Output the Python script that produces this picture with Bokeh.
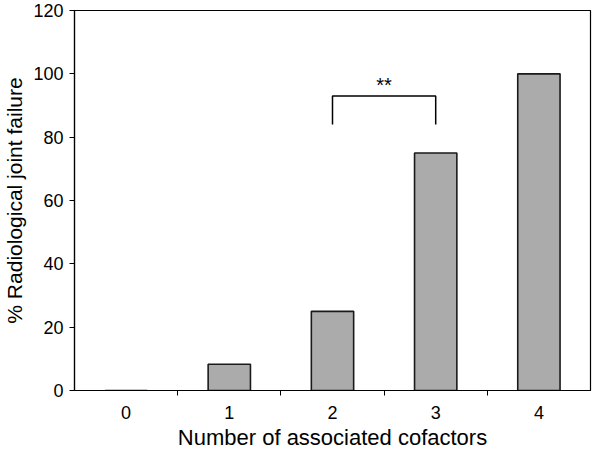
from bokeh.plotting import figure
from bokeh.models import FixedTicker, Range1d, ColumnDataSource
from bokeh.embed import file_html
from bokeh.resources import INLINE

categories = ["0", "1", "2", "3", "4"]
failure_pct = [0, 8.3, 25, 75, 100]
y_ticks = [0, 20, 40, 60, 80, 100, 120]
sig_pair = [2, 3]
sig_label = "**"
bracket_top = 93
bracket_bottom = 84
sig_text_y = 96.5

centers = [i + 0.5 for i in range(len(categories))]
boundaries = [i for i in range(1, len(categories))]

p = figure(width=592, height=452, output_backend="svg", toolbar_location=None,
           x_range=Range1d(0, len(categories)), y_range=Range1d(0, 120),
           min_border_left=69, min_border_right=2, min_border_top=10, min_border_bottom=60)

src = ColumnDataSource(dict(x=centers, top=failure_pct))
p.vbar(x="x", top="top", bottom=0, width=0.41, source=src,
       fill_color="#ababab", line_color="#1a1a1a", line_width=1.6)

xa = [centers[sig_pair[0]], centers[sig_pair[0]], centers[sig_pair[1]], centers[sig_pair[1]]]
ya = [bracket_bottom, bracket_top, bracket_top, bracket_bottom]
p.line(xa, ya, line_color="black", line_width=1.5)
p.text(x=[(centers[sig_pair[0]] + centers[sig_pair[1]]) / 2], y=[sig_text_y], text=[sig_label],
       text_align="center", text_baseline="middle", text_font_size="20px",
       text_color="black")

p.xgrid.visible = False
p.ygrid.visible = False
p.outline_line_color = "black"
p.outline_line_width = 1.2

font = "Liberation Sans"
xa_ = p.xaxis[0]
xa_.ticker = FixedTicker(ticks=centers, minor_ticks=boundaries)
xa_.major_label_overrides = {c: lab for c, lab in zip(centers, categories)}
xa_.major_tick_out = 0
xa_.major_tick_in = 0
xa_.minor_tick_out = 5
xa_.minor_tick_in = 0
xa_.major_label_standoff = 10
xa_.axis_label = "Number of associated cofactors"
xa_.axis_label_standoff = 3

ya_ = p.yaxis[0]
ya_.ticker = FixedTicker(ticks=y_ticks)
ya_.major_tick_out = 5
ya_.major_tick_in = 0
ya_.minor_tick_out = 0
ya_.minor_tick_in = 0
ya_.major_label_standoff = 6
ya_.axis_label = "% Radiological joint failure"
ya_.axis_label_standoff = 4

for ax in (xa_, ya_):
    ax.axis_line_color = "black"
    ax.axis_line_width = 1.2
    ax.major_tick_line_color = "black"
    ax.minor_tick_line_color = "black"
    ax.major_label_text_font = font
    ax.major_label_text_font_size = "18px"
    ax.major_label_text_color = "black"
    ax.axis_label_text_font = font
    ax.axis_label_text_font_size = "21px"
    ax.axis_label_text_font_style = "normal"
    ax.axis_label_text_color = "black"
xa_.axis_label_text_font_size = "22px"

open("out.html", "w").write(file_html(p, INLINE))
